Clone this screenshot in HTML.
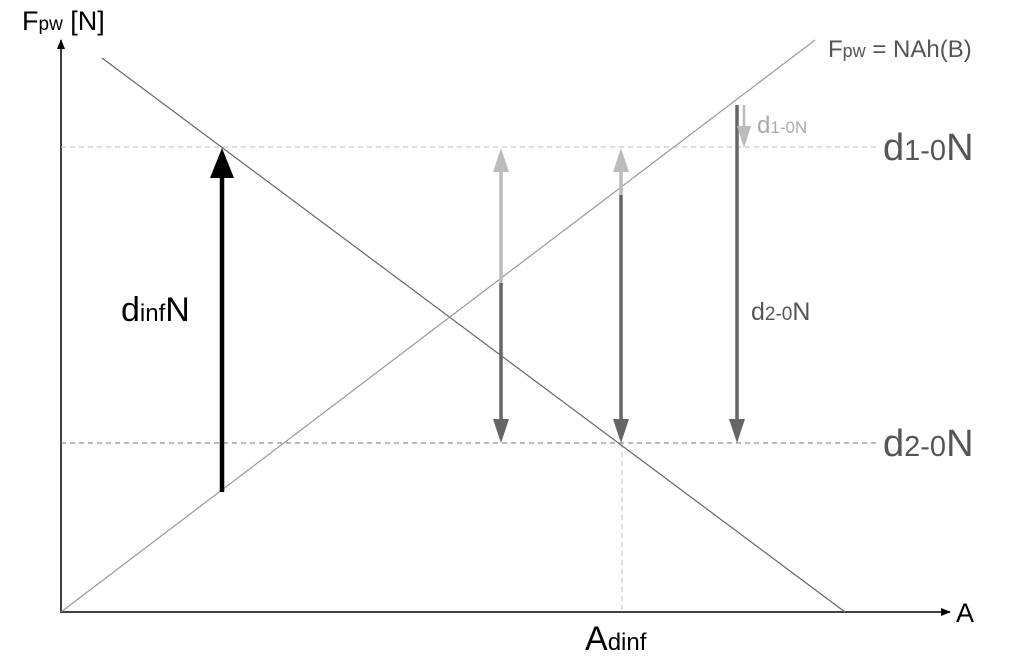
<!DOCTYPE html>
<html><head><meta charset="utf-8"><style>
body{margin:0;background:#fff}
svg{display:block}
text{font-family:"Liberation Sans",sans-serif}
</style></head><body>
<svg width="1029" height="658" viewBox="0 0 1029 658">
<defs>
<marker id="ax" markerWidth="10" markerHeight="10" refX="9" refY="5" orient="auto" markerUnits="userSpaceOnUse"><path d="M0,1 L10,5 L0,9 Z" fill="#000"/></marker>
</defs>
<line x1="61" y1="613" x2="61" y2="40" stroke="#000" stroke-width="1.5" marker-end="url(#ax)"/>
<line x1="61" y1="612" x2="950" y2="612" stroke="#000" stroke-width="1.5" marker-end="url(#ax)"/>
<line x1="61" y1="147" x2="876" y2="147" stroke="#bbb" stroke-width="1" stroke-dasharray="5,4"/>
<line x1="61" y1="443" x2="876" y2="443" stroke="#777" stroke-width="1" stroke-dasharray="5,4"/>
<line x1="622" y1="443" x2="622" y2="612" stroke="#bbb" stroke-width="1" stroke-dasharray="5,4"/>
<line x1="102" y1="58" x2="845" y2="612" stroke="#666" stroke-width="1.2"/>
<line x1="61" y1="612" x2="815" y2="40" stroke="#999" stroke-width="1.2"/>
<line x1="222" y1="492" x2="222" y2="175" stroke="#000" stroke-width="4.5"/>
<path d="M222,148 L210,178 L234,178 Z" fill="#000"/>
<line x1="501" y1="283" x2="501" y2="170" stroke="#bbb" stroke-width="3.5"/>
<path d="M501,148 L493,172 L509,172 Z" fill="#bbb"/>
<line x1="501" y1="283" x2="501" y2="420" stroke="#666" stroke-width="3.5"/>
<path d="M501,443 L493,419 L509,419 Z" fill="#666"/>
<line x1="621" y1="195" x2="621" y2="170" stroke="#bbb" stroke-width="3.5"/>
<path d="M621,148 L613,172 L629,172 Z" fill="#bbb"/>
<line x1="621" y1="195" x2="621" y2="420" stroke="#666" stroke-width="3.5"/>
<path d="M621,443 L613,419 L629,419 Z" fill="#666"/>
<line x1="737" y1="105" x2="737" y2="420" stroke="#666" stroke-width="3.5"/>
<path d="M737,443 L729,419 L745,419 Z" fill="#666"/>
<line x1="744" y1="105" x2="744" y2="128" stroke="#bbb" stroke-width="2.5"/>
<path d="M744,148 L737,126 L751,126 Z" fill="#bbb"/>
<text x="22" y="30" font-size="27" fill="#000">F<tspan font-size="19">pw</tspan> [N]</text>
<text x="828" y="57" font-size="24" fill="#555">F<tspan font-size="18">pw</tspan> = NAh(B)</text>
<text x="757" y="133" font-size="24" fill="#aaa">d<tspan font-size="17">1-0N</tspan></text>
<text x="883" y="160" font-size="38" fill="#555">d<tspan font-size="29">1-0</tspan>N</text>
<text x="883" y="456" font-size="38" fill="#555">d<tspan font-size="29">2-0</tspan>N</text>
<text x="751" y="320" font-size="25" fill="#555">d<tspan font-size="19">2-0</tspan>N</text>
<text x="121" y="321" font-size="34" fill="#000">d<tspan font-size="24">inf</tspan>N</text>
<text x="585" y="650" font-size="34" fill="#000">A<tspan font-size="24">dinf</tspan></text>
<text x="956" y="622" font-size="27" fill="#000">A</text>
</svg>
</body></html>
